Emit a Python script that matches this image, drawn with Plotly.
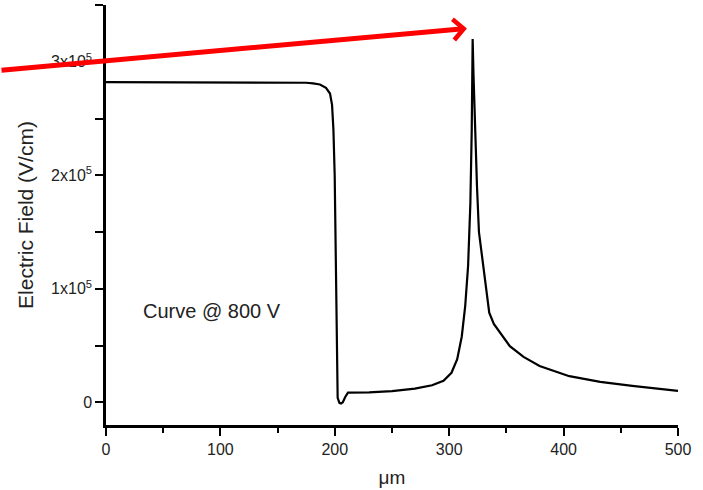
import plotly.graph_objects as go

# Data
depth_um = [0, 100, 175, 181, 187, 192.3, 195.8, 197.6, 198.8, 199.9, 200.7, 201.3, 201.8, 202.5, 204,
            205.5, 207, 209, 211.5, 230, 250, 270, 285, 295, 302, 307, 311, 314, 316.5, 318.5, 319.7,
            320.5, 321.2, 322.0, 322.8, 324.3, 326, 330.5, 335, 339, 344, 353, 365, 379, 405, 432,
            460, 480, 500]
field_vcm = [282000, 282000, 281500, 281000, 280000, 277000, 272000, 262000, 240000, 200000, 130000,
             55000, 17000, 4000, -500, -1000, 0, 4500, 8500, 8800, 9800, 12000, 15000,
             19000, 26000, 38000, 58000, 85000, 120000, 175000, 240000, 320000, 290000, 260000,
             237000, 190000, 150000, 115000, 79000, 69000, 62000, 49500, 40000, 32000, 23000, 18000,
             14500, 12000, 10000]

x_tickvals = [0, 100, 200, 300, 400, 500]
y_tickvals = [0, 100000, 200000, 300000]
y_ticktext = ["0", "1x10<sup>5</sup>", "2x10<sup>5</sup>", "3x10<sup>5</sup>"]

FONT = "Liberation Sans, Arial, sans-serif"
TXT = "#222"

fig = go.Figure()
fig.add_trace(go.Scatter(x=depth_um, y=field_vcm, mode="lines",
                         line=dict(color="black", width=2.2), showlegend=False))

fig.update_layout(
    width=703, height=490,
    margin=dict(l=106, r=25, t=5, b=63),
    paper_bgcolor="white", plot_bgcolor="white",
    font=dict(family=FONT, color=TXT),
    xaxis=dict(range=[0, 500], tickvals=x_tickvals, showgrid=False, zeroline=False,
               showline=True, linecolor="black", linewidth=2.5,
               ticks="outside", ticklen=8, tickwidth=2, tickcolor="black",
               tickfont=dict(size=16, family=FONT, color=TXT),
               minor=dict(dtick=50, ticks="outside", ticklen=5, tickwidth=2, tickcolor="black", showgrid=False),
               title=dict(text="μm", font=dict(size=19, family=FONT, color=TXT), standoff=14)),
    yaxis=dict(range=[-20000, 350000], tickvals=y_tickvals, ticktext=y_ticktext,
               showgrid=False, zeroline=False,
               showline=True, linecolor="black", linewidth=2.5,
               ticks="outside", ticklen=8, tickwidth=2, tickcolor="black",
               tickfont=dict(size=16, family=FONT, color=TXT),
               minor=dict(tickvals=[50000, 150000, 250000, 350000], ticks="outside", ticklen=8,
                          tickwidth=2, tickcolor="black", showgrid=False),
               title=dict(text="Electric Field (V/cm)", font=dict(size=21, family=FONT, color=TXT),
                          standoff=12)),
)

fig.add_annotation(x=93, y=80000, text="Curve @ 800 V", showarrow=False,
                   font=dict(size=20, family=FONT, color=TXT))

fig.add_annotation(x=315.5, y=329400, text="", showarrow=True, arrowhead=4, arrowsize=0.8,
                   arrowwidth=5, arrowcolor="#ff0000", ax=-470, ay=42, standoff=0)

fig.write_html("out.html")
